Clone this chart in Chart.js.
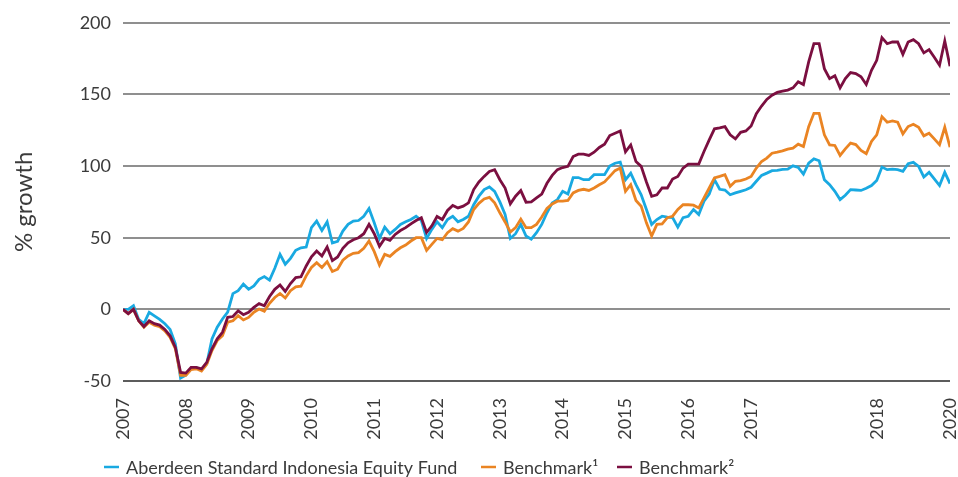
<!DOCTYPE html>
<html>
<head>
<meta charset="utf-8">
<script src="https://cdn.jsdelivr.net/npm/chart.js@4.4.1/dist/chart.umd.min.js"></script>
<style>
  html, body { margin: 0; padding: 0; background: #fff; }
  #wrap { width: 958px; height: 477px; position: relative; }
</style>
</head>
<body>
<div id="wrap"><canvas id="growthChart"></canvas></div>
<script>
/* ======================================================
    DATA (monthly, % growth)
====================================================== */
const seriesNames = ['Aberdeen Standard Indonesia Equity Fund', 'Benchmark\u00B9', 'Benchmark\u00B2'];

const fund = [
  0, 0, 2.5, -7, -10, -2, -4.5, -7, -10, -14,
  -24, -48, -46, -41.5, -40.7, -42, -38, -20.6, -12.5, -6.7,
  -2, 11, 13, 17.6, 14, 16.4, 21, 22.9, 20.4, 28.7,
  38.4, 31.5, 35.6, 41.2, 43, 43.5, 57, 61.6, 55, 61,
  46.3, 47.5, 54.6, 59.3, 61.6, 62, 65, 70.4, 60.4, 49.5,
  57.4, 52.8, 55.8, 59.3, 61.1, 62.7, 65, 62, 49.5, 55.8,
  61.1, 57, 62.7, 65, 61.1, 62.7, 65, 73, 79, 83.6,
  85.4, 82.4, 75, 66.2, 49.5, 52.8, 59.3, 51.2, 49, 53.5,
  59.3, 67.4, 74.3, 76.6, 82.4, 80.5, 92, 92, 90.5, 90.5,
  94, 94, 94, 100, 102, 102.8, 90.5, 95, 87, 80,
  69.7, 59.3, 62.7, 65, 64.4, 64, 57.4, 64, 65, 69.7,
  66.2, 75.5, 80.5, 90.5, 83.8, 83.3, 80, 81.3, 82.4, 83.5,
  85.2, 89.4, 93.5, 95.1, 96.8, 97, 97.7, 97.9, 100.2, 99.1,
  94.4, 102, 105, 103.7, 90.5, 87, 82.4, 76.6, 79.6, 83.6,
  83.3, 83, 84.5, 86.4, 90, 99.3, 97.5, 97.9, 97.5, 96.3,
  101.7, 102.6, 99.8, 92.4, 95.6, 91, 86.4, 95.6, 87.8
];

const benchmark1 = [
  0, -3, 0, -8, -12.5, -9, -11, -12, -15, -19.5,
  -27.5, -46, -46, -42, -41.5, -43, -38.4, -28.7, -21.8, -18.3,
  -9, -8, -4.4, -7.4, -5.6, -2, 0.2, -1.4, 4.2, 8.3,
  11.1, 7.9, 13, 15.7, 16.2, 23.4, 29.2, 32.6, 29.2, 33.3,
  26.4, 28, 34.3, 37.3, 39.1, 39.6, 42.6, 47.7, 40.3, 31,
  38.4, 37, 40.3, 43, 44.9, 47.7, 50, 50, 41.2, 45.4,
  49.5, 48.6, 53.5, 56.3, 54.6, 56.5, 61, 69.7, 74, 77,
  78.2, 74.3, 67.4, 61, 54, 57, 63, 57, 57, 59.3,
  64.4, 70.4, 73.6, 75.5, 75.5, 76, 81.3, 83, 83.8, 83,
  84.7, 87, 88.9, 92.8, 96.8, 98.6, 82.4, 87, 76, 72,
  60.4, 51.2, 59.3, 59.7, 64, 65, 69.7, 73, 73, 72.7,
  70.8, 77.8, 84.7, 91.7, 92.8, 94, 85.9, 89.4, 89.8, 91,
  92.8, 98.6, 103.2, 105.6, 109, 109.7, 110.6, 111.8, 112.5, 115.3,
  113.7, 127.5, 136.8, 136.8, 121.8, 114.8, 114.4, 107.4, 112, 116,
  115, 111, 108.6, 117.2, 121.8, 134.5, 130.6, 131.5, 130.6, 122.5,
  127.6, 129.2, 127.1, 121.1, 122.9, 119, 114.9, 127.1, 113.2
];

const benchmark2 = [
  0, -3, 0, -8, -12, -8, -10, -11, -14, -18.5,
  -26.5, -44, -44.5, -40.5, -40.5, -41.5, -37, -27.5, -20.6, -16,
  -5.5, -5, -1, -3.7, -2, 1.4, 4, 2.5, 9, 14,
  17, 12.5, 18, 22.2, 22.7, 30.3, 36.6, 40.7, 37.3, 43.5,
  34, 36.6, 42.6, 46.5, 48.6, 50, 52.8, 59.3, 52.8, 44,
  49.5, 48.1, 52.3, 55, 57, 59.7, 62, 63.9, 53.7, 58.3,
  64.8, 62.7, 69, 72.5, 70.8, 72, 74.3, 83.6, 88.9, 92.8,
  96.3, 97.5, 90.5, 84.7, 73.6, 79, 82.9, 74.8, 75, 77.8,
  80.5, 88, 93.5, 97.5, 99, 99.8, 106.7, 108.3, 108.3, 107.4,
  109.7, 113, 115.3, 121.3, 122.9, 124.5, 110, 114.8, 103.2, 99.8,
  88.9, 78.9, 80, 84.7, 84.7, 91, 92.8, 98.6, 101.4, 101.4,
  101.4, 110.2, 118.3, 126, 126.6, 127.5, 121.8, 119, 123.6, 124.5,
  128, 136.6, 141.9, 146.5, 149.5, 151.4, 152.3, 153, 154.6, 158.8,
  156.9, 172.7, 185.4, 185.4, 168, 161, 163, 154.6, 161, 165.3,
  164.6, 162.3, 156.9, 166.9, 173.8, 189.6, 185.4, 186.6, 186.6, 178,
  186.6, 188.2, 185.4, 179, 181.3, 176, 170.4, 187.3, 169.7
];

// x positions are month indexes; year labels sit on these months
const months = fund.map((_, i) => i);
const tickMonths = [0, 12, 24, 36, 48, 60, 72, 84, 96, 108, 120, 144, 158];
const tickYears = ['2007', '2008', '2009', '2010', '2011', '2012', '2013', '2014', '2015', '2016', '2017', '2018', '2020'];
const yTicks = [-50, 0, 50, 100, 150, 200];

/* ======================================================
    CHART CONFIG
====================================================== */
const FONT = 'Lato';
const TEXT = '#3b3b3b';
const colors = ['#19a9e1', '#ea8423', '#7b0f40'];

// simple bottom legend with short line markers
const lineLegend = {
    id: 'lineLegend',
    afterDraw(chart) {
        const ctx = chart.ctx;
        const startX = [104, 481, 617];
        const y = 467;
        ctx.save();
        ctx.font = '18px ' + FONT;
        ctx.textBaseline = 'middle';
        chart.data.datasets.forEach((ds, i) => {
            const x = startX[i];
            ctx.strokeStyle = ds.borderColor;
            ctx.lineWidth = 2.5;
            ctx.beginPath();
            ctx.moveTo(x, y);
            ctx.lineTo(x + 15, y);
            ctx.stroke();
            ctx.fillStyle = TEXT;
            ctx.fillText(ds.label, x + 22, y + 1);
        });
        ctx.restore();
    }
};

function makeSet(label, data, color, order) {
    return {
        label: label,
        data: data,
        borderColor: color,
        backgroundColor: color,
        borderWidth: 2.8,
        pointRadius: 0,
        tension: 0,
        fill: false,
        order: order
    };
}

new Chart(document.getElementById('growthChart'), {
    type: 'line',
    data: {
        labels: months,
        datasets: [
            makeSet(seriesNames[0], fund, colors[0], 2),
            makeSet(seriesNames[1], benchmark1, colors[1], 1),
            makeSet(seriesNames[2], benchmark2, colors[2], 0)
        ]
    },
    options: {
        responsive: true,
        maintainAspectRatio: false,
        animation: false,
        devicePixelRatio: 1,
        layout: { padding: { top: 21, right: 8, bottom: 0, left: 0 } },
        plugins: { legend: { display: false }, tooltip: { enabled: false } },
        scales: {
            x: {
                type: 'linear',
                min: 0,
                max: months.length - 1,
                grid: { display: false },
                border: { display: false },
                afterBuildTicks: s => { s.ticks = tickMonths.map(v => ({ value: v })); },
                afterFit: s => {
                    s.height = 96;
                    s.paddingLeft = 0;
                    s.paddingRight = 0;
                },
                ticks: {
                    autoSkip: false,
                    minRotation: 90,
                    maxRotation: 90,
                    padding: 9,
                    color: TEXT,
                    font: { family: FONT, size: 18, lineHeight: 1 },
                    callback: v => tickYears[tickMonths.indexOf(v)] ?? ''
                }
            },
            y: {
                min: yTicks[0],
                max: yTicks[yTicks.length - 1],
                afterBuildTicks: s => { s.ticks = yTicks.map(v => ({ value: v })); },
                afterFit: s => { s.width = 123; },
                border: { display: false },
                grid: {
                    drawTicks: false,
                    lineWidth: 2,
                    color: c => c.tick && c.tick.value === -50 ? '#5c5c5c' : '#8f8f8f'
                },
                ticks: {
                    padding: 12,
                    color: TEXT,
                    font: { family: FONT, size: 18 }
                },
                title: {
                    display: true,
                    text: '% growth',
                    color: TEXT,
                    font: { family: FONT, size: 24 },
                    padding: { top: 10, bottom: 0 }
                }
            }
        }
    },
    plugins: [lineLegend]
});
</script>
</body>
</html>
